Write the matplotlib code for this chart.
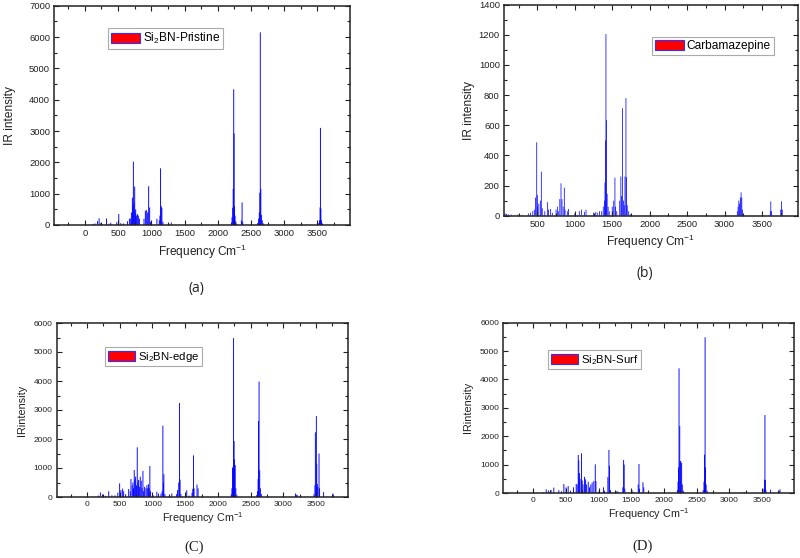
import matplotlib
matplotlib.use("Agg")
import matplotlib.pyplot as plt
from matplotlib.patches import Patch
from matplotlib.ticker import MultipleLocator

plt.rcParams['font.family'] = ['Liberation Sans', 'DejaVu Sans']
plt.rcParams['mathtext.fontset'] = 'custom'
plt.rcParams['mathtext.rm'] = 'Liberation Sans'
plt.rcParams['mathtext.it'] = 'Liberation Sans:italic'
plt.rcParams['mathtext.bf'] = 'Liberation Sans:bold'

# ---------------- data ----------------
# (a) Si2BN-Pristine
freq_a = [120, 150, 190, 214, 240, 325, 360, 390, 480, 510, 540, 580, 640, 670, 690, 700,
          715, 722, 730, 740, 750, 758, 765, 775, 790, 805, 820, 890, 910, 925, 945, 960,
          975, 990, 1084, 1120, 1130, 1139, 1150, 1159, 1175, 1300,
          2205, 2215, 2225, 2232, 2240, 2246, 2252, 2260, 2270, 2280, 2355, 2366, 2375,
          2600, 2615, 2625, 2633, 2640, 2648, 2656, 2670, 2690,
          3520, 3530, 3540, 3545, 3552, 3560, 3575]
int_a = [30, 50, 120, 213, 60, 210, 40, 70, 90, 350, 60, 50, 120, 200, 210, 400,
         873, 600, 2023, 700, 1225, 400, 500, 300, 350, 300, 200, 200, 450, 480, 400, 1240,
         560, 100, 200, 150, 300, 1810, 600, 540, 100, 80,
         80, 250, 550, 1150, 4330, 2920, 600, 300, 120, 50, 150, 720, 100,
         60, 200, 400, 1030, 6150, 1150, 320, 150, 50,
         60, 150, 560, 3100, 530, 150, 50]

# (b) Carbamazepine
freq_b = [70, 90, 110, 150, 240, 300, 380, 410, 440, 460, 475, 492, 500, 505, 520, 540, 553,
          565, 600, 638, 650, 678, 700, 750, 767, 780, 800, 816, 829, 845, 860, 870, 900,
          915, 1000, 1060, 1090, 1130, 1150, 1250, 1280, 1300, 1330, 1360, 1380, 1395,
          1403, 1410, 1416, 1425, 1432, 1445, 1460, 1500, 1520, 1536, 1545, 1560, 1600,
          1615, 1625, 1638, 1650, 1660, 1670, 1683, 1692, 1700, 1720, 1740,
          3170, 3180, 3190, 3200, 3210, 3220, 3230, 3240, 3610, 3617, 3625, 3750, 3758, 3770]
int_b = [15, 12, 10, 8, 8, 5, 15, 20, 30, 40, 120, 487, 137, 60, 80, 100, 292,
         50, 30, 90, 40, 45, 20, 40, 60, 30, 110, 215, 110, 60, 186, 40, 30,
         45, 15, 30, 40, 25, 40, 20, 25, 20, 30, 30, 60, 100,
         220, 500, 1205, 634, 145, 60, 30, 60, 100, 252, 60, 30, 100,
         260, 130, 713, 100, 70, 260, 780, 255, 70, 30, 10,
         30, 60, 100, 80, 120, 155, 120, 40, 30, 95, 30, 40, 95, 40]

# (C) Si2BN-edge
freq_c = [170, 203, 236, 280, 331, 380, 427, 470, 498, 518, 544, 559, 590, 636, 660, 671,
          690, 701, 710, 721, 730, 742, 755, 767, 778, 788, 800, 813, 828, 840, 854, 865,
          880, 900, 915, 928, 940, 950, 960, 970, 1010, 1067, 1093, 1130, 1148, 1159, 1166,
          1174, 1190, 1296, 1370, 1383, 1402, 1413, 1422, 1435, 1524, 1560, 1605, 1616,
          1627, 1636, 1681, 1697,
          2205, 2215, 2225, 2232, 2240, 2248, 2255, 2265, 2275, 2290,
          2590, 2605, 2615, 2622, 2630, 2640, 2650, 2665,
          3186, 3200, 3220, 3470, 3485, 3491, 3506, 3512, 3520, 3530, 3547, 3555,
          3617, 3760, 3770]
int_c = [50, 160, 90, 40, 200, 60, 60, 150, 470, 240, 290, 200, 100, 275, 200, 620,
         400, 500, 300, 930, 600, 700, 400, 1713, 500, 590, 350, 700, 560, 300, 897, 200,
         350, 300, 410, 300, 440, 300, 1070, 200, 60, 180, 120, 120, 200, 2460, 500,
         790, 100, 120, 100, 240, 500, 3240, 600, 100, 230, 50, 150, 280,
         1437, 300, 430, 300,
         100, 300, 1000, 1050, 5480, 1930, 1300, 1100, 300, 80,
         60, 200, 620, 2620, 3980, 920, 300, 100,
         120, 80, 60, 100, 400, 2230, 2790, 1150, 450, 350, 1500, 300,
         170, 120, 60]

# (D) Si2BN-Surf
freq_d = [150, 196, 230, 270, 313, 390, 430, 467, 500, 533, 570, 615, 656, 670, 687, 695,
          705, 715, 738, 748, 760, 784, 800, 815, 840, 860, 880, 900, 926, 948, 958, 1000,
          1075, 1090, 1141, 1157, 1165, 1180, 1280, 1300, 1370, 1382, 1390, 1400, 1510,
          1540, 1605, 1617, 1625, 1678, 1690,
          2205, 2215, 2222, 2230, 2241, 2248, 2256, 2270, 2280, 2295,
          2600, 2612, 2620, 2629, 2636, 2645, 2660,
          3200, 3230, 3530, 3540, 3545, 3552, 3560, 3632, 3765, 3775]
int_d = [30, 130, 90, 110, 190, 100, 60, 317, 200, 250, 80, 200, 320, 300, 1339, 1150,
         700, 500, 1397, 440, 300, 570, 480, 300, 400, 200, 300, 370, 420, 1010, 420, 50,
         200, 80, 560, 1515, 960, 100, 70, 40, 200, 1163, 1000, 150, 100,
         40, 300, 1020, 150, 380, 200,
         100, 400, 900, 4393, 2360, 1100, 1128, 1060, 300, 80,
         100, 400, 1350, 5486, 900, 300, 80,
         30, 30, 150, 470, 2748, 450, 100, 120, 60, 130]

legend_labels = ['Si$_2$BN-Pristine', 'Carbamazepine', 'Si$_2$BN-edge', 'Si$_2$BN-Surf']
y_labels = ['IR intensity', 'IR intensity', 'IRintensity', 'IRintensity']
x_label = 'Frequency Cm$^{-1}$'
captions = ['(a)', '(b)', '(C)', '(D)']
ylims = [7000, 1400, 6000, 6000]
y_major = [1000, 200, 1000, 1000]
y_minor = [500, 100, 500, 500]
xticks_full = [0, 500, 1000, 1500, 2000, 2500, 3000, 3500]
xticks_b = [500, 1000, 1500, 2000, 2500, 3000, 3500]

# ---------------- layout ----------------
W, H = 800, 558
fig = plt.figure(figsize=(W / 100, H / 100), dpi=100)

def px_axes(l, r, t, b):
    return fig.add_axes([l / W, 1 - b / H, (r - l) / W, (b - t) / H])

boxes = [(54.3, 350, 5.7, 225), (504, 798, 4.7, 215.7),
         (57, 348, 323, 497), (503.3, 794, 322.7, 493)]
xlims = [(-460, 3990), (55, 3980), (-460, 3990), (-460, 3990)]
leg_pos = [(0.182, 0.898), (0.503, 0.847), (0.165, 0.864), (0.154, 0.84)]
ylab_x = [-0.15, -0.12, -0.12, -0.12]
xlab_y = [-0.123, -0.125, -0.12, -0.123]
tick_fs = [6.8, 6.8, 6.0, 6.0]
lab_fs = [8.6, 8.6, 7.8, 7.8]
leg_fs = [8.6, 8.6, 8.2, 8.2]
bar_w = [14, 10, 14, 14]

data = [(freq_a, int_a), (freq_b, int_b), (freq_c, int_c), (freq_d, int_d)]

for i, (f, v) in enumerate(data):
    ax = px_axes(*boxes[i])
    bars = ax.bar(f, v, width=bar_w[i], color='#0000ff', linewidth=0)
    for b in bars:
        b.set_snap(False)
    ax.set_xlim(*xlims[i])
    ax.set_ylim(0, ylims[i])
    ax.set_xticks(xticks_b if i == 1 else xticks_full)
    ax.xaxis.set_minor_locator(MultipleLocator(250))
    ax.yaxis.set_major_locator(MultipleLocator(y_major[i]))
    ax.yaxis.set_minor_locator(MultipleLocator(y_minor[i]))
    ax.tick_params(which='both', direction='in', top=True, right=True,
                   labelsize=tick_fs[i], colors='#222222', width=0.8, pad=3)
    ax.tick_params(which='major', length=3.5)
    ax.tick_params(which='minor', length=2)
    for s in ax.spines.values():
        s.set_linewidth(1.1)
        s.set_color('#222222')
    ax.set_ylabel(y_labels[i], fontsize=lab_fs[i], va='center', color='#222222')
    ax.yaxis.set_label_coords(ylab_x[i], 0.5)
    ax.set_xlabel(x_label, fontsize=lab_fs[i], va='center', color='#222222')
    ax.xaxis.set_label_coords(0.5, xlab_y[i])
    handle = Patch(facecolor='#ff0000', edgecolor='#3030ff', linewidth=0.8)
    leg = ax.legend([handle], [legend_labels[i]], loc='upper left',
                    bbox_to_anchor=leg_pos[i], fontsize=leg_fs[i], fancybox=False,
                    framealpha=1, edgecolor='#aaaaaa', borderpad=0.25,
                    handlelength=2.4, handleheight=0.95, handletextpad=0.25,
                    borderaxespad=0)
    leg.get_frame().set_linewidth(0.8)

fig.text(196 / W, 1 - 289 / H, captions[0], fontsize=10, ha='center', va='center',
         family=['Open Sans', 'DejaVu Sans'], color='#222222')
fig.text(645 / W, 1 - 273 / H, captions[1], fontsize=10, ha='center', va='center',
         family=['Open Sans', 'DejaVu Sans'], color='#222222')
fig.text(194 / W, 1 - 547 / H, captions[2], fontsize=10.5, ha='center', va='center',
         family=['Liberation Serif', 'DejaVu Serif'], color='#222222')
fig.text(643 / W, 1 - 546 / H, captions[3], fontsize=10.5, ha='center', va='center',
         family=['Liberation Serif', 'DejaVu Serif'], color='#222222')

fig.savefig('out.png', dpi=100)
